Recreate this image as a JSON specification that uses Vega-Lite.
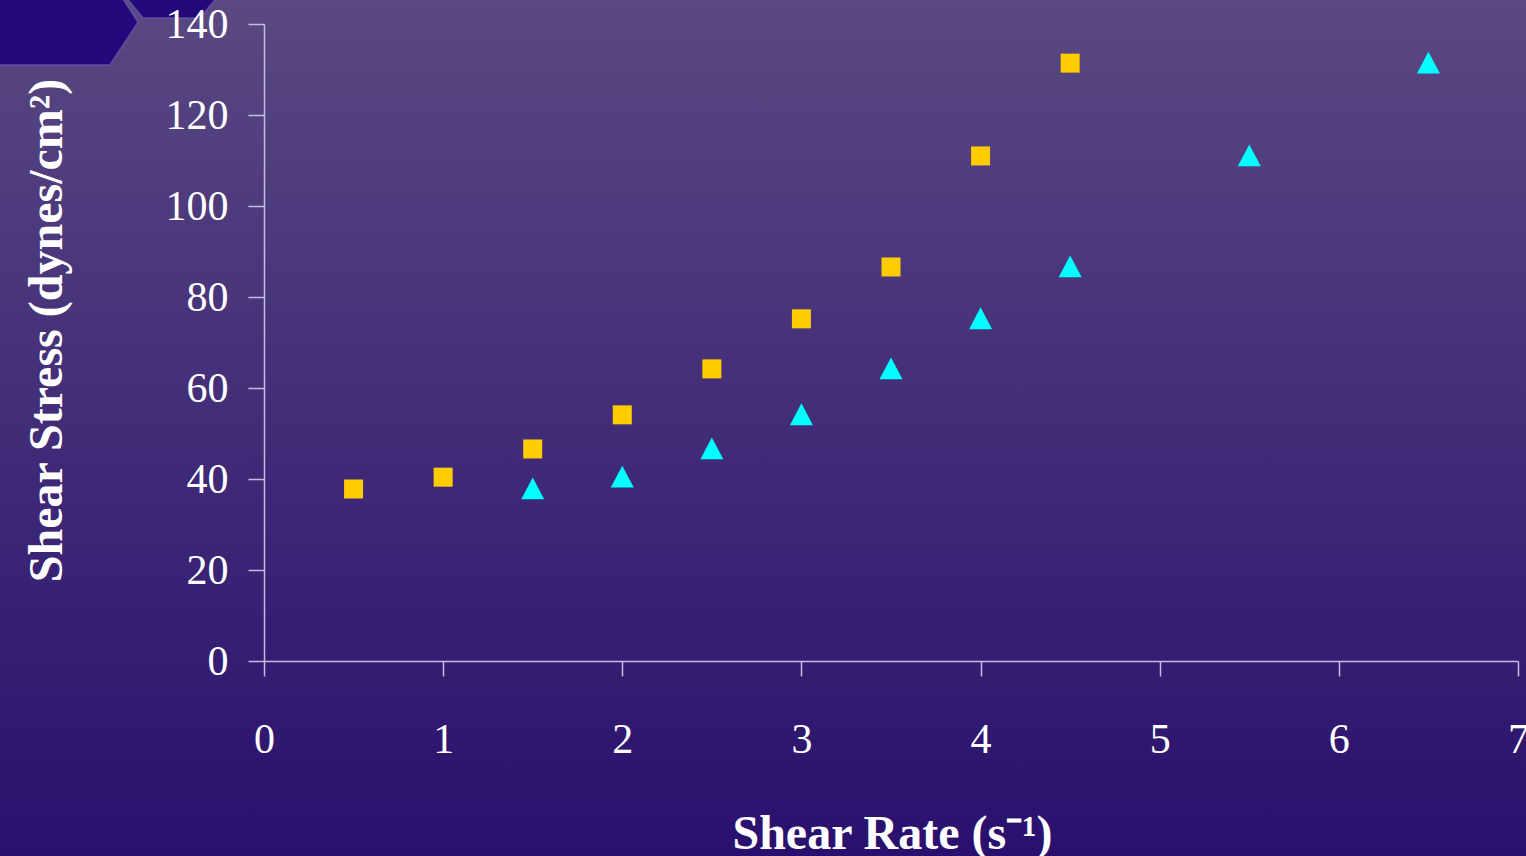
{
  "$schema": "https://vega.github.io/schema/vega-lite/v6.json",
  "width": 1254,
  "height": 637,
  "autosize": {"type": "none"},
  "padding": {"left": 264, "top": 24, "right": 8, "bottom": 195},
  "background": "#3a2474",
  "config": {"view": {"stroke": null}},
  "datasets": {
    "points": [
      {"series": "A", "rate": 0.5, "stress": 37.8},
      {"series": "A", "rate": 1.0, "stress": 40.4},
      {"series": "A", "rate": 1.5, "stress": 46.6},
      {"series": "A", "rate": 2.0, "stress": 54.1},
      {"series": "A", "rate": 2.5, "stress": 64.2},
      {"series": "A", "rate": 3.0, "stress": 75.2},
      {"series": "A", "rate": 3.5, "stress": 86.6},
      {"series": "A", "rate": 4.0, "stress": 111.0},
      {"series": "A", "rate": 4.5, "stress": 131.4},
      {"series": "B", "rate": 1.5, "stress": 37.8},
      {"series": "B", "rate": 2.0, "stress": 40.4},
      {"series": "B", "rate": 2.5, "stress": 46.6},
      {"series": "B", "rate": 3.0, "stress": 54.1},
      {"series": "B", "rate": 3.5, "stress": 64.2},
      {"series": "B", "rate": 4.0, "stress": 75.2},
      {"series": "B", "rate": 4.5, "stress": 86.6},
      {"series": "B", "rate": 5.5, "stress": 111.0},
      {"series": "B", "rate": 6.5, "stress": 131.4}
    ],
    "hex1": [
      {"hx": -1.6, "top": 150, "bot": 131.0},
      {"hx": -0.86, "top": 150, "bot": 131.0},
      {"hx": -0.703, "top": 140.4, "bot": 140.4}
    ],
    "hex2": [
      {"hx": -0.759, "top": 150, "bot": 145.3},
      {"hx": -0.675, "top": 150, "bot": 141.3},
      {"hx": -0.357, "top": 150, "bot": 141.3},
      {"hx": -0.274, "top": 150, "bot": 145.3}
    ]
  },
  "layer": [
    {
      "data": {"values": [{}]},
      "mark": {
        "type": "rect",
        "clip": false,
        "color": {
          "gradient": "linear",
          "x1": 0, "y1": 0, "x2": 0, "y2": 1,
          "stops": [
            {"offset": 0, "color": "#5b4a82"},
            {"offset": 1, "color": "#29106e"}
          ]
        }
      },
      "encoding": {
        "x": {"datum": -1.6, "type": "quantitative", "scale": {"domain": [0, 7], "nice": false}},
        "x2": {"datum": 7.3},
        "y": {"datum": 150, "type": "quantitative", "scale": {"domain": [0, 140], "nice": false}},
        "y2": {"datum": -43.2}
      }
    },
    {
      "data": {"name": "hex1"},
      "mark": {"type": "area", "clip": false, "color": "#22087a", "stroke": "#6c5cae", "strokeWidth": 2, "strokeOpacity": 0.6},
      "encoding": {
        "x": {"field": "hx", "type": "quantitative"},
        "y": {"field": "top", "type": "quantitative"},
        "y2": {"field": "bot"}
      }
    },
    {
      "data": {"name": "hex2"},
      "mark": {"type": "area", "clip": false, "color": "#22087a", "stroke": "#6c5cae", "strokeWidth": 2, "strokeOpacity": 0.6},
      "encoding": {
        "x": {"field": "hx", "type": "quantitative"},
        "y": {"field": "top", "type": "quantitative"},
        "y2": {"field": "bot"}
      }
    },
    {
      "data": {"name": "points"},
      "mark": {"type": "point", "filled": true, "opacity": 1},
      "encoding": {
        "x": {
          "field": "rate", "type": "quantitative",
          "scale": {"domain": [0, 7], "nice": false},
          "axis": {
            "title": "Shear Rate (s⁻¹)",
            "values": [0, 1, 2, 3, 4, 5, 6, 7],
            "format": "d",
            "grid": false,
            "zindex": 1,
            "domainColor": "#c4bde0", "domainWidth": 1.5,
            "tickColor": "#c4bde0", "tickWidth": 1.5, "tickSize": 15,
            "labelFont": "Liberation Serif", "labelFontSize": 42, "labelColor": "#ffffff",
            "labelBaseline": "alphabetic", "labelPadding": 76,
            "labelOverlap": false, "labelFlush": false, "labelBound": false,
            "titleFont": "Liberation Serif", "titleFontSize": 48, "titleFontWeight": "bold", "titleColor": "#ffffff",
            "titleBaseline": "alphabetic", "titleX": 628, "titleY": 187, "titleAnchor": "middle"
          }
        },
        "y": {
          "field": "stress", "type": "quantitative",
          "scale": {"domain": [0, 140], "nice": false},
          "axis": {
            "title": "Shear Stress (dynes/cm²)",
            "values": [0, 20, 40, 60, 80, 100, 120, 140],
            "format": "d",
            "grid": false,
            "zindex": 1,
            "domainColor": "#c4bde0", "domainWidth": 1.5,
            "tickColor": "#c4bde0", "tickWidth": 1.5, "tickSize": 16,
            "labelFont": "Liberation Serif", "labelFontSize": 42, "labelColor": "#ffffff",
            "labelPadding": 20, "labelBaseline": "middle",
            "labelOverlap": false, "labelFlush": false, "labelBound": false,
            "titleFont": "Liberation Serif", "titleFontSize": 48, "titleFontWeight": "bold", "titleColor": "#ffffff",
            "titleBaseline": "alphabetic", "titleAngle": -90, "titleX": -203, "titleY": 306, "titleAnchor": "middle"
          }
        },
        "color": {"field": "series", "type": "nominal", "scale": {"domain": ["A", "B"], "range": ["#ffcc00", "#00ffff"]}, "legend": null},
        "shape": {"field": "series", "type": "nominal", "scale": {"domain": ["A", "B"], "range": ["square", "M0,-1L-1,0.9L1,0.9Z"]}, "legend": null},
        "size": {"field": "series", "type": "nominal", "scale": {"domain": ["A", "B"], "range": [361, 529]}, "legend": null}
      }
    }
  ]
}
